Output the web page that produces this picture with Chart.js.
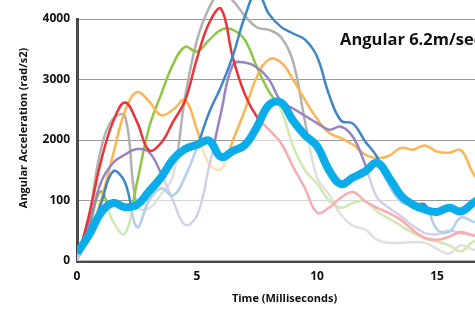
<!DOCTYPE html>
<html>
<head>
<meta charset="utf-8">
<script src="https://cdn.jsdelivr.net/npm/chart.js@4.4.1/dist/chart.umd.min.js"></script>
<style>
html,body{margin:0;padding:0;overflow:hidden;background:#fff}
#wrap{width:492px;height:310px}
</style>
</head>
<body>
<div id="wrap"><canvas id="chart"></canvas></div>
<script>
/* ========= DATA ========= */

const times=[0,0.5,1,1.5,2,2.5,3,3.5,4,4.5,5,5.5,6,6.5,7,7.5,8,8.5,9,9.5,10,10.5,11,11.5,12,12.5,13,13.5,14,14.5,15,15.5,16,16.5,17]

const main=[130,430,800,960,890,930,1150,1380,1680,1850,1920,1990,1720,1820,1920,2220,2580,2620,2320,2080,1900,1500,1270,1380,1480,1620,1380,1080,930,850,810,880,820,960,1100]
const steel=[30,400,950,1480,1300,560,1000,1200,1080,1390,1880,2450,2880,3400,4050,4450,4080,3870,3760,3660,3380,2750,2320,2270,1980,1720,1250,980,920,930,520,480,720,650,600]
const gray=[0,750,1850,2350,2400,900,870,1100,1400,2700,3650,4180,4450,4300,4050,3860,3820,3700,3300,2300,1380,1100,760,580,520,350,300,300,310,300,200,120,260,190,200]
const red=[0,750,1650,2300,2620,2300,1830,1950,2300,2650,3350,3930,4170,3350,2750,2380,2170,1950,1560,1200,800,880,1050,1140,990,880,790,680,510,380,350,400,480,420,400]
const green=[0,550,1150,650,450,1300,2200,2750,3250,3540,3460,3650,3820,3820,3650,3200,2800,2500,1900,1500,1280,1000,880,960,990,820,700,580,460,370,320,260,160,320,380]
const orange=[0,400,1000,1750,2480,2790,2640,2410,2500,2660,2170,1600,1520,2000,2500,3050,3330,3280,3000,2660,2350,2120,2030,1920,1760,1700,1740,1870,1840,1910,1810,1790,1830,1450,1200]
const purple=[0,600,1300,1620,1760,1850,1800,1450,1000,600,750,1550,2450,3250,3280,3200,3000,2640,2520,2400,2280,2170,2220,2050,1600,1050,880,740,580,460,440,500,460,430,430]

const yTicks=[0,1000,2000,3000,4000]
const yTickLabels=["0","100","2000","3000","4000"]
const xTicks=[0,5,10,15]

const chartTitle="Angular 6.2m/sec"
const xTitle="Time (Milliseconds)"
const yTitle="Angular Acceleration (rad/s2)"

/* ========= HELPERS ========= */

const pts=v=>v.map((y,i)=>({x:times[i],y}))
const line=(d,color,w)=>({data:pts(d),borderColor:color,borderWidth:w,pointRadius:0,tension:0.4,fill:false,
 clip:{left:0,top:19,right:0,bottom:0}})

const FONT='"Open Sans", "Liberation Sans", sans-serif'

/* ========= TEXT ========= */

const texts={
 id:"texts",
 afterDraw(c){
  const ctx=c.ctx
  ctx.save()
  ctx.fillStyle="#111"
  ctx.font="bold 16.5px "+FONT
  ctx.textAlign="left"
  ctx.textBaseline="alphabetic"
  ctx.fillText(chartTitle,340,45)
  ctx.translate(24,128)
  ctx.rotate(-Math.PI/2)
  ctx.font="bold 11px "+FONT
  ctx.textAlign="center"
  ctx.textBaseline="middle"
  ctx.fillText(yTitle,0,0)
  ctx.restore()
 }
}

/* ========= CHART ========= */

const thick=line(main,"#0aade9",8)
thick.fill="origin"
thick.backgroundColor="rgba(255,255,255,0.6)"

new Chart(document.getElementById("chart"),{
 type:"line",
 data:{datasets:[
  thick,
  line(steel,"#3f86c5",2.5),
  line(red,"#ec3338",2.5),
  line(purple,"#9885c1",2.5),
  line(orange,"#fbb553",2.5),
  line(green,"#8dc641",2.5),
  line(gray,"#b1b1b1",2.5)
 ]},
 options:{
  responsive:true,
  maintainAspectRatio:false,
  animation:false,
  devicePixelRatio:1,
  layout:{padding:{top:19,right:0,left:0,bottom:0}},
  plugins:{legend:{display:false},tooltip:{enabled:false}},
  scales:{
   x:{
    type:"linear",min:0,max:17.29,z:1,
    afterBuildTicks:s=>{s.ticks=xTicks.map(v=>({value:v}))},
    afterFit:s=>{s.height=49},
    grid:{display:false},
    border:{color:"#4a4a4a",width:3},
    ticks:{color:"#111",padding:0,font:{family:FONT,weight:"bold",size:12},maxRotation:0},
    title:{display:true,text:xTitle,color:"#111",font:{family:FONT,weight:"bold",size:11},padding:{top:0,bottom:5}}
   },
   y:{
    min:0,max:4000,
    afterBuildTicks:s=>{s.ticks=yTicks.map(v=>({value:v}))},
    afterFit:s=>{s.width=77},
    grid:{color:"#9a9a9a",lineWidth:1,drawTicks:false},
    border:{color:"#4a4a4a",width:3},
    ticks:{color:"#111",padding:7,font:{family:FONT,weight:"bold",size:12},
     callback:(v,i)=>yTickLabels[i]}
   }
  }
 },
 plugins:[texts]
})
</script>
</body>
</html>
